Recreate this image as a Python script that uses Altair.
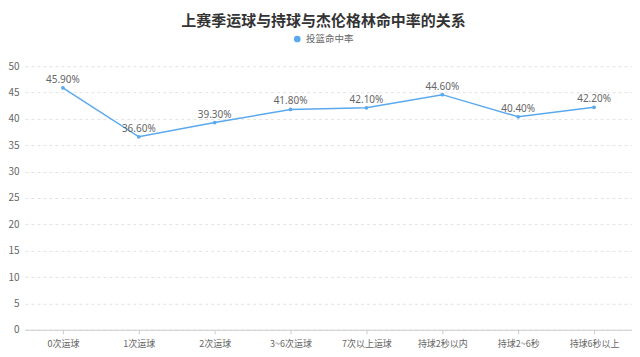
import altair as alt
import pandas as pd

categories = ["0次运球", "1次运球", "2次运球", "3~6次运球", "7次以上运球", "持球2秒以内", "持球2~6秒", "持球6秒以上"]
values = [45.9, 36.6, 39.3, 41.8, 42.1, 44.6, 40.4, 42.2]
series = "投篮命中率"

df = pd.DataFrame({"cat": categories, "val": values, "series": [series] * len(categories)})
df["label"] = df["val"].map(lambda v: f"{v:.2f}%")

FONT = "Noto Sans CJK SC"
BLUE = "#5aa9ee"

x = alt.X("cat:N", sort=categories, title=None,
          scale=alt.Scale(type="point", padding=0.5),
          axis=alt.Axis(labelAngle=0, labelFontSize=9, labelColor="#666", labelFont=FONT,
                        domainColor="#ccc", tickColor="#ccc", tickSize=4, labelPadding=6, grid=False))
y = alt.Y("val:Q", title=None,
          scale=alt.Scale(domain=[0, 50]),
          axis=alt.Axis(values=list(range(0, 51, 5)), domain=False, ticks=False,
                        labelFontSize=10, labelColor="#666", labelFont=FONT, labelPadding=6,
                        grid=True, gridDash=[3, 3], gridColor="#e3e3e3"))

color = alt.Color("series:N", scale=alt.Scale(range=[BLUE]),
                  legend=alt.Legend(title=None, orient="none", legendX=268, legendY=-32,
                                    symbolType="circle", symbolSize=45, labelFontSize=9.5,
                                    labelColor="#666", labelFont=FONT, symbolStrokeWidth=0,
                                    labelOffset=4))

base = alt.Chart(df).encode(x=x, y=y)
line = base.mark_line(strokeWidth=1.5).encode(color=color)
pts = base.mark_point(filled=True, size=14, opacity=1).encode(color=color)
txt = base.mark_text(dy=-8, fontSize=10, color="#666", font="Noto Sans").encode(text="label:N")

chart = alt.layer(line, pts, txt).properties(
    width=608, height=264,
    title=alt.TitleParams("上赛季运球与持球与杰伦格林命中率的关系", fontSize=15, fontWeight="bold",
                          color="#333", font=FONT, anchor="middle", dx=-5, offset=5),
    autosize=alt.AutoSizeParams(type="none"),
    padding={"left": 17, "top": 58, "right": 0, "bottom": 27},
).configure_view(stroke=None)

chart.save("out.html", embed_options={"renderer": "svg", "actions": False})
